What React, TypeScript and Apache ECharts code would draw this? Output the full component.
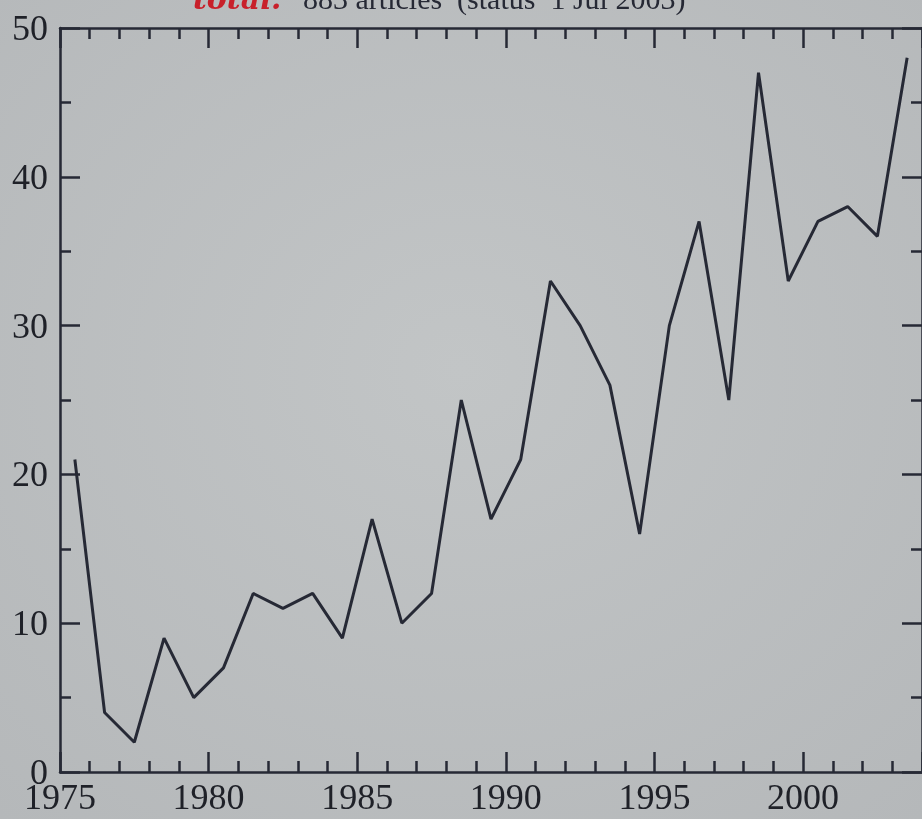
import React, { useEffect, useRef } from "react";
import * as echarts from "echarts";

const years: number[] = [
  1975, 1976, 1977, 1978, 1979, 1980, 1981, 1982, 1983, 1984,
  1985, 1986, 1987, 1988, 1989, 1990, 1991, 1992, 1993, 1994,
  1995, 1996, 1997, 1998, 1999, 2000, 2001, 2002, 2003,
];
const articles: number[] = [
  21, 4, 2, 9, 5, 7, 12, 11, 12, 9,
  17, 10, 12, 25, 17, 21, 33, 30, 26, 16,
  30, 37, 25, 47, 33, 37, 38, 36, 48,
];
const titleLead = "total:";
const titleRest = "883 articles  (status  1 Jul 2003)";

const INK = "#262935";
const SERIF = "'Liberation Serif', 'DejaVu Serif', serif";

export default function App() {
  const ref = useRef<HTMLDivElement>(null);
  useEffect(() => {
    if (!ref.current) return;
    const chart = echarts.init(ref.current, undefined, { renderer: "svg" });
    // points are plotted at the middle of each year
    const data = years.map((y, i) => [y + 0.5, articles[i]]);
    const axisLine = { show: true, onZero: false, lineStyle: { color: INK, width: 2.5 } };
    const tick = { show: true, inside: true, length: 20, lineStyle: { color: INK, width: 2.5 } };
    const minor = (n: number) => ({
      show: true,
      splitNumber: n,
      length: 11,
      lineStyle: { color: INK, width: 2.5 },
    });
    chart.setOption({
      animation: false,
      graphic: [
        {
          type: "rect",
          z: -10,
          silent: true,
          shape: { x: 0, y: 0, width: 922, height: 819 },
          style: {
            fill: new echarts.graphic.RadialGradient(0.5, 0.45, 0.8, [
              { offset: 0, color: "#c2c5c6" },
              { offset: 1, color: "#b4b7b9" },
            ]),
          },
        },
        {
          type: "text",
          x: 193,
          y: 13,
          style: {
            text: titleLead,
            fill: "#c8202a",
            font: "italic bold 30px 'DejaVu Serif', serif",
            verticalAlign: "bottom",
            align: "left",
          },
        },
        {
          type: "text",
          x: 303,
          y: 13,
          style: {
            text: titleRest,
            fill: INK,
            font: "30px " + SERIF,
            verticalAlign: "bottom",
            align: "left",
          },
        },
      ],
      grid: { left: 60, top: 28, width: 870, height: 744, containLabel: false },
      xAxis: [
        {
          type: "value",
          min: 1975,
          max: 2004,
          interval: 5,
          position: "bottom",
          axisLine,
          axisTick: tick,
          minorTick: minor(5),
          splitLine: { show: false },
          axisLabel: {
            show: true,
            margin: 7,
            showMaxLabel: false,
            color: "#1f2128",
            fontFamily: SERIF,
            fontSize: 36,
            formatter: (v: number) => String(v),
          },
        },
        {
          type: "value",
          min: 1975,
          max: 2004,
          interval: 5,
          position: "top",
          gridIndex: 0,
          axisLine,
          axisTick: tick,
          minorTick: minor(5),
          splitLine: { show: false },
          axisLabel: { show: false },
        },
      ],
      yAxis: [
        {
          type: "value",
          min: 0,
          max: 50,
          interval: 10,
          position: "left",
          axisLine,
          axisTick: tick,
          minorTick: minor(2),
          splitLine: { show: false },
          axisLabel: {
            show: true,
            margin: 12,
            color: "#1f2128",
            fontFamily: SERIF,
            fontSize: 36,
          },
        },
        {
          type: "value",
          min: 0,
          max: 50,
          interval: 10,
          position: "right",
          axisLine,
          axisTick: tick,
          minorTick: minor(2),
          splitLine: { show: false },
          axisLabel: { show: false },
        },
      ],
      series: [
        {
          type: "line",
          data,
          xAxisIndex: 0,
          yAxisIndex: 0,
          showSymbol: false,
          symbol: "none",
          lineStyle: { color: INK, width: 3 },
        },
      ],
    });
    return () => chart.dispose();
  }, []);
  return (
    <div
      ref={ref}
      style={{ position: "fixed", left: 0, top: 0, width: 922, height: 819 }}
    />
  );
}
